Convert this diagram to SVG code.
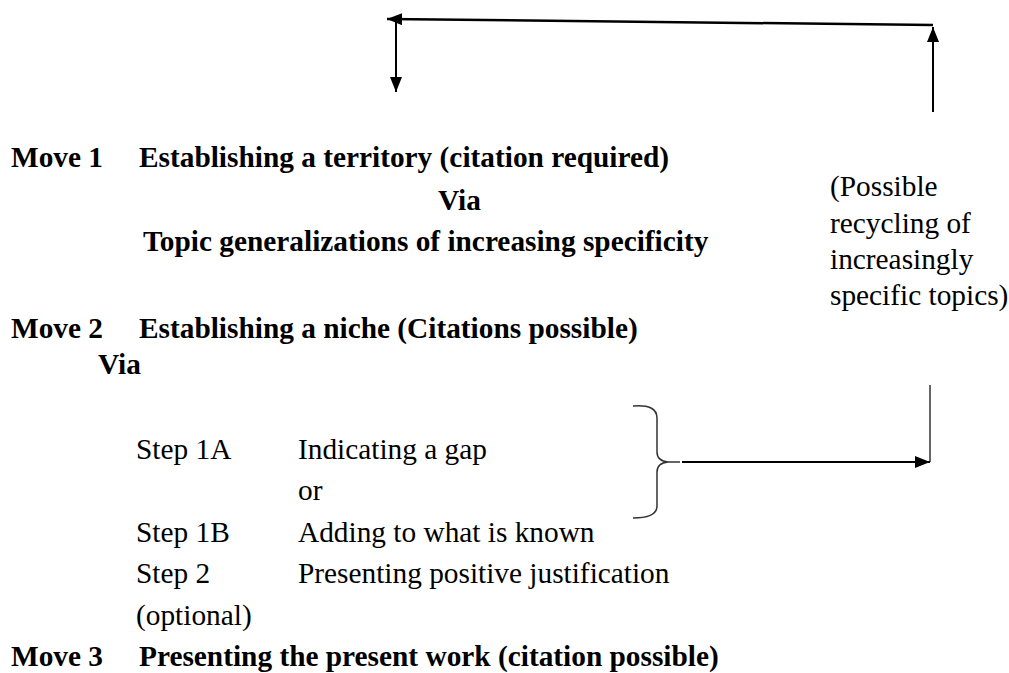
<svg xmlns="http://www.w3.org/2000/svg" width="1009" height="673" viewBox="0 0 1009 673">
  <style>
    text { font-family: "Liberation Serif", "Times New Roman", serif; font-size: 29.33px; fill: #000; }
    .b { font-weight: bold; }
    .ln { stroke: #000; stroke-width: 2; fill: none; }
    .top { stroke: #000; stroke-width: 2.5; fill: none; }
    .thin { stroke: #333; stroke-width: 1.5; fill: none; }
  </style>
  <defs>
    <marker id="ah" markerUnits="userSpaceOnUse" markerWidth="15" markerHeight="12" refX="15" refY="6" orient="auto">
      <path d="M0,0 L15,6 L0,12 Z" fill="#000"/>
    </marker>
  </defs>
  <rect width="1009" height="673" fill="#fff"/>

  <g id="move1">
    <text class="b" x="11" y="167">Move 1</text>
    <text class="b" x="139" y="167">Establishing a territory (citation required)</text>
    <text class="b" x="438" y="210">Via</text>
    <text class="b" x="143" y="251">Topic generalizations of increasing specificity</text>
  </g>

  <g id="move2">
    <text class="b" x="11" y="338">Move 2</text>
    <text class="b" x="139" y="338">Establishing a niche (Citations possible)</text>
    <text class="b" x="98" y="374">Via</text>
  </g>

  <g id="steps">
    <text x="136" y="459">Step 1A</text>
    <text x="298" y="459">Indicating a gap</text>
    <text x="298" y="500">or</text>
    <text x="136" y="542">Step 1B</text>
    <text x="298" y="542">Adding to what is known</text>
    <text x="136" y="583">Step 2</text>
    <text x="298" y="583">Presenting positive justification</text>
    <text x="136" y="625">(optional)</text>
  </g>

  <g id="move3">
    <text class="b" x="11" y="666">Move 3</text>
    <text class="b" x="139" y="666">Presenting the present work (citation possible)</text>
  </g>

  <g id="recycling-note">
    <text x="830" y="196">(Possible</text>
    <text x="830" y="233">recycling of</text>
    <text x="830" y="269">increasingly</text>
    <text x="830" y="305">specific topics)</text>
  </g>

  <g id="brace">
    <path class="thin" d="M633,406 Q657,404 657,418 L657,452 Q657,461 668,462 L680,462 M668,462 Q657,463 657,472 L657,506 Q657,518 633,518"/>
  </g>

  <g id="connectors">
    <line class="top" x1="933" y1="25" x2="387" y2="19" marker-end="url(#ah)"/>
    <line class="ln" x1="396" y1="19" x2="396" y2="92" marker-end="url(#ah)"/>
    <line class="ln" x1="933" y1="112" x2="933" y2="27" marker-end="url(#ah)"/>
    <line class="thin" x1="930" y1="385" x2="930" y2="462"/>
    <line class="ln" x1="682" y1="462" x2="930" y2="462" marker-end="url(#ah)"/>
  </g>
</svg>
